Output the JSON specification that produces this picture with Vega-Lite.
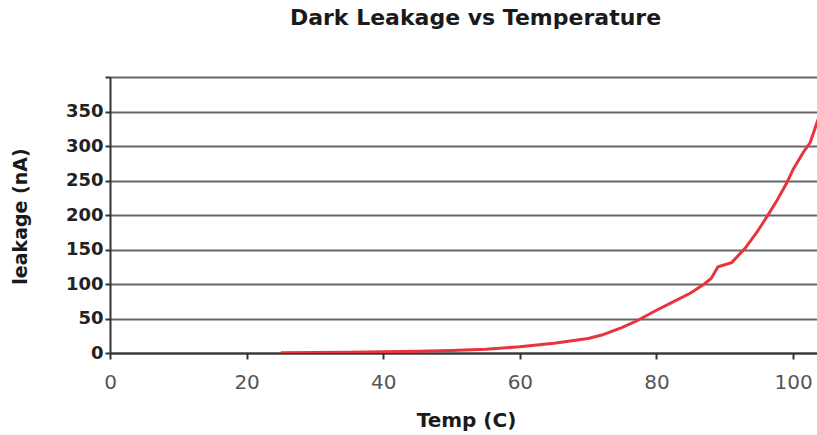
{
  "$schema": "https://vega.github.io/schema/vega-lite/v6.json",
  "autosize": "none",
  "padding": {"left": 110, "top": 77, "right": 0, "bottom": 82},
  "width": 707,
  "height": 276,
  "background": "white",
  "title": {"text": "Dark Leakage vs Temperature", "font": "DejaVu Sans", "fontSize": 22, "fontWeight": "bold", "color": "#1a1a1a", "anchor": "middle", "dx": 12, "offset": 46},
  "data": {"values": [
    {"temp": 25, "leak": 0.5}, {"temp": 30, "leak": 0.8}, {"temp": 35, "leak": 1.2}, {"temp": 40, "leak": 1.8},
    {"temp": 45, "leak": 2.5}, {"temp": 50, "leak": 3.5}, {"temp": 55, "leak": 5.5}, {"temp": 60, "leak": 9},
    {"temp": 65, "leak": 14}, {"temp": 70, "leak": 21}, {"temp": 72, "leak": 26}, {"temp": 75, "leak": 37},
    {"temp": 77, "leak": 46}, {"temp": 80, "leak": 62}, {"temp": 82, "leak": 72}, {"temp": 85, "leak": 87},
    {"temp": 87, "leak": 100}, {"temp": 88, "leak": 108}, {"temp": 89, "leak": 125}, {"temp": 91, "leak": 131},
    {"temp": 93, "leak": 152}, {"temp": 94.7, "leak": 175}, {"temp": 96.2, "leak": 198}, {"temp": 97.7, "leak": 222},
    {"temp": 99.1, "leak": 247}, {"temp": 100, "leak": 266}, {"temp": 101.5, "leak": 291}, {"temp": 102.5, "leak": 305},
    {"temp": 103.5, "leak": 334}, {"temp": 104.5, "leak": 360}
  ]},
  "mark": {"type": "line", "color": "#e8343c", "strokeWidth": 3, "clip": true},
  "encoding": {
    "x": {"field": "temp", "type": "quantitative", "scale": {"domain": [0, 103.5], "nice": false},
      "axis": {"title": "Temp (C)", "values": [0, 20, 40, 60, 80, 100], "grid": false,
        "domainColor": "#333", "domainWidth": 2, "tickColor": "#333", "tickWidth": 2, "tickSize": 6,
        "labelFont": "DejaVu Sans", "labelFontSize": 20, "labelColor": "#555", "labelPadding": 13, "labelFlush": false,
        "titleFont": "DejaVu Sans", "titleFontSize": 20, "titleFontWeight": "bold", "titleColor": "#1a1a1a",
        "titleX": 356, "titleY": 67, "titleBaseline": "middle"}},
    "y": {"field": "leak", "type": "quantitative", "scale": {"domain": [0, 400], "nice": false},
      "axis": {"title": "leakage (nA)", "values": [0, 50, 100, 150, 200, 250, 300, 350, 400],
        "labelExpr": "datum.value == 400 ? '' : datum.label",
        "gridColor": "#666", "gridWidth": 2, "gridOpacity": 1,
        "domainColor": "#333", "domainWidth": 2, "tickColor": "#333", "tickWidth": 2, "tickSize": 5,
        "labelFont": "DejaVu Sans", "labelFontSize": 18, "labelFontWeight": "bold", "labelColor": "#222", "labelPadding": 2,
        "titleFont": "DejaVu Sans", "titleFontSize": 19, "titleFontWeight": "bold", "titleColor": "#1a1a1a",
        "titleX": -90, "titleY": 139, "titleAngle": -90, "titleAlign": "center", "titleBaseline": "middle"}}
  },
  "config": {"view": {"stroke": null}}
}
